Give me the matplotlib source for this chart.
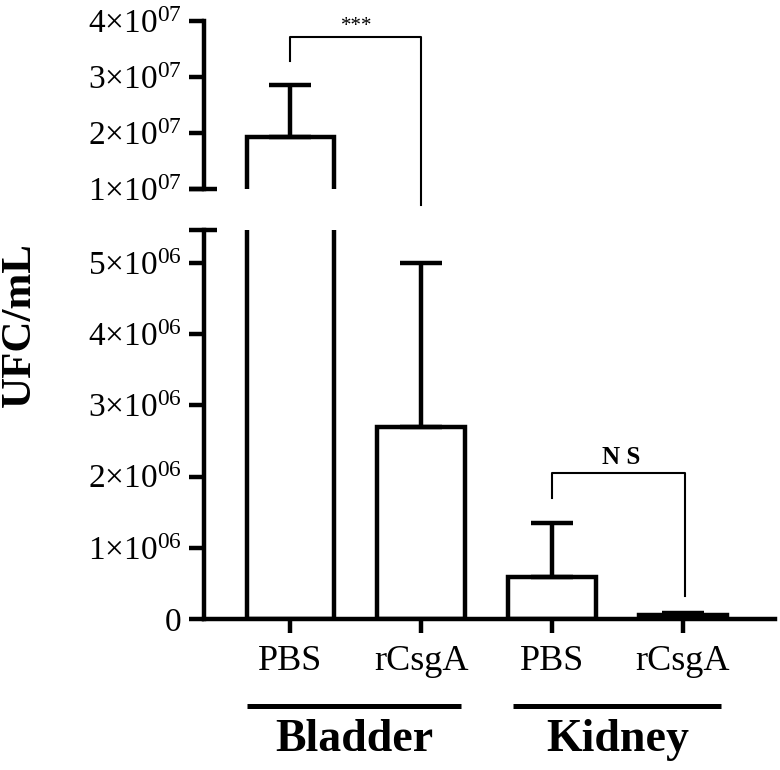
import matplotlib
matplotlib.use("Agg")
import matplotlib.pyplot as plt
import matplotlib.transforms as mtransforms

# data
conditions = ["PBS", "rCsgA", "PBS", "rCsgA"]
groups = ["Bladder", "Kidney"]
means = [1.93e7, 2.70e6, 5.9e5, 5.0e4]
err_up = [0.93e7, 2.30e6, 7.6e5, 4.0e4]

top_ticks = [1e7, 2e7, 3e7, 4e7]
top_labels = [r"$1{\times}10^{07}$", r"$2{\times}10^{07}$", r"$3{\times}10^{07}$", r"$4{\times}10^{07}$"]
low_ticks = [0, 1e6, 2e6, 3e6, 4e6, 5e6]
low_labels = ["0", r"$1{\times}10^{06}$", r"$2{\times}10^{06}$", r"$3{\times}10^{06}$",
              r"$4{\times}10^{06}$", r"$5{\times}10^{06}$"]

plt.rcParams["font.family"] = ["Liberation Serif", "DejaVu Serif"]
plt.rcParams["mathtext.fontset"] = "custom"
plt.rcParams["mathtext.rm"] = "Liberation Serif"
plt.rcParams["mathtext.it"] = "Liberation Serif:italic"
plt.rcParams["mathtext.bf"] = "Liberation Serif:bold"

LW = 3.2
x = list(range(len(conditions)))
xlim = (-0.661, 3.704)

fig = plt.figure(figsize=(7.8, 7.7), dpi=100)
ax_top = fig.add_axes([0.2615, 0.7545, 0.732, 0.2182])
ax_low = fig.add_axes([0.2615, 0.1961, 0.732, 0.5052])

for ax in (ax_top, ax_low):
    ax.bar(x, means, width=0.67, color="white", edgecolor="black", linewidth=LW, zorder=2)
    ax.errorbar(x, means, yerr=[[0] * len(means), err_up], fmt="none", ecolor="black",
                elinewidth=LW, capsize=15, capthick=LW, zorder=3)
    ax.set_xlim(*xlim)
    ax.spines["top"].set_visible(False)
    ax.spines["right"].set_visible(False)
    ax.spines["left"].set_linewidth(LW)
    ax.tick_params(axis="y", length=11, width=LW, labelsize=24, pad=5)

# upper part of the broken axis
ax_top.set_ylim(1e7, 4e7)
ax_top.set_yticks(top_ticks)
ax_top.set_yticklabels(top_labels)
ax_top.spines["bottom"].set_visible(False)
ax_top.set_xticks([])

# lower part
ax_low.set_ylim(0, 5.46e6)
ax_low.set_yticks(low_ticks)
ax_low.set_yticklabels(low_labels)
ax_low.spines["bottom"].set_linewidth(LW)
ax_low.set_xticks(x)
ax_low.set_xticklabels(conditions, fontsize=26)
ax_low.tick_params(axis="x", length=10, width=LW, pad=9)

# break marks
ax_top.plot([-0.026, 0.023], [0, 0], transform=ax_top.transAxes, color="black", lw=LW,
            clip_on=False, solid_capstyle="butt")
ax_low.plot([-0.026, 0.023], [1, 1], transform=ax_low.transAxes, color="black", lw=LW,
            clip_on=False, solid_capstyle="butt")

fig.text(0.026, 0.578, "UFC/mL", rotation=90, fontsize=31, fontweight="bold",
         ha="center", va="center")

# group labels under the axis
trans = mtransforms.blended_transform_factory(ax_low.transData, ax_low.transAxes)
group_spans = [(-0.333, 1.303), (1.70, 3.29)]
group_centers = [0.49, 2.5]
for (a, b), c, name in zip(group_spans, group_centers, groups):
    ax_low.plot([a, b], [-0.224, -0.224], transform=trans, color="black", lw=3.6,
                clip_on=False, solid_capstyle="butt")
    ax_low.text(c, -0.311, name, transform=trans, fontsize=33, fontweight="bold",
                ha="center", va="center")

# significance brackets
ax_top.plot([0, 0, 1, 1], [3.29e7, 3.71e7, 3.71e7, 0.71e7], color="black", lw=1.5,
            clip_on=False)
ax_top.text(0.51, 3.82e7, "***", ha="center", va="baseline", fontsize=15)

ax_low.plot([2, 2, 3.02, 3.02], [1.70e6, 2.05e6, 2.05e6, 0.32e6], color="black", lw=1.5)
ax_low.text(2.53, 2.26e6, "N S", ha="center", va="center", fontsize=18, fontweight="bold")

plt.savefig("out.png", dpi=100)
